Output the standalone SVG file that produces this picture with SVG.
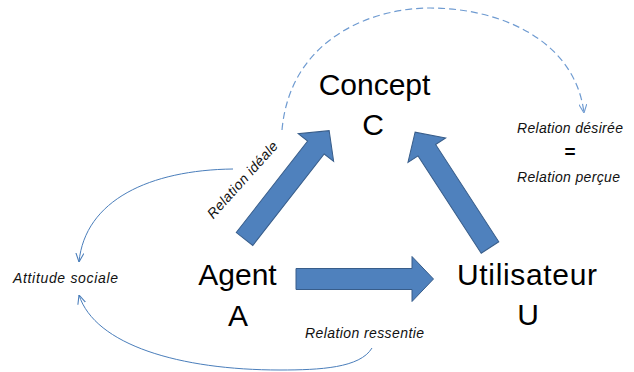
<svg xmlns="http://www.w3.org/2000/svg" width="634" height="372" viewBox="0 0 634 372">
<style>
.big{font-family:"Liberation Sans",Arial,sans-serif;font-size:30px;fill:#000;text-anchor:middle}
.it{font-family:"Liberation Sans",Arial,sans-serif;font-size:14px;font-style:italic;fill:#111;text-anchor:middle}
.block{fill:#4F81BD;stroke:#385D8A;stroke-width:1}
.thin{fill:none;stroke:#4A7EBB;stroke-width:1}
.dash{fill:none;stroke:#6F9BD1;stroke-width:1.2;stroke-dasharray:7 4}
</style>
<defs>
<path id="blockArrow" d="M0,-10.5 H116 V-22.5 L137.5,0 L116,22.5 V10.5 H0 Z"/>
<marker id="vhead" viewBox="0 0 10 10" refX="10" refY="5" markerWidth="9" markerHeight="9" markerUnits="userSpaceOnUse" orient="auto">
<path d="M0,0.5 L10,5 L0,9.5" fill="none" stroke="#4A7EBB" stroke-width="1.2"/>
</marker>
<marker id="vheadDash" viewBox="0 0 10 10" refX="10" refY="5" markerWidth="9" markerHeight="9" markerUnits="userSpaceOnUse" orient="auto">
<path d="M0,0.5 L10,5 L0,9.5" fill="none" stroke="#6F9BD1" stroke-width="1.2"/>
</marker>
</defs>
<g id="connectors">
<use href="#blockArrow" class="block" transform="translate(244.5,239) rotate(-52)"/>
<use href="#blockArrow" class="block" transform="translate(296,279)"/>
<use href="#blockArrow" class="block" transform="translate(490,247.5) rotate(-123)"/>
<path class="dash" d="M282,130 C290,40 370,8 430,8 C500,8 575,40 584,113" marker-end="url(#vheadDash)"/>
<path class="thin" d="M233,169 C150,170 85,200 79,262" marker-end="url(#vhead)"/>
<path class="thin" d="M372,348 C360,368 320,370 280,370 C180,370 95,345 79,295" marker-end="url(#vhead)"/>
</g>
<g id="concept">
<text class="big" x="374.5" y="95">Concept</text>
<text class="big" x="373" y="135">C</text>
</g>
<g id="agent">
<text class="big" x="237.5" y="285">Agent</text>
<text class="big" x="238" y="326">A</text>
</g>
<g id="utilisateur">
<text class="big" x="527" y="285" textLength="140">Utilisateur</text>
<text class="big" x="528" y="325">U</text>
</g>
<g id="labels">
<text class="it" x="65.5" y="283" textLength="105">Attitude  sociale</text>
<text class="it" x="364.5" y="338" textLength="119">Relation ressentie</text>
<text class="it" x="570" y="133" textLength="106">Relation désirée</text>
<text x="570" y="158" font-family="Liberation Sans,Arial,sans-serif" font-size="19" font-weight="bold" text-anchor="middle">=</text>
<text class="it" x="568.5" y="182" textLength="103">Relation perçue</text>
<text class="it" transform="translate(246,183) rotate(-48)" x="0" y="0" textLength="98">Relation idéale</text>
</g>
</svg>
